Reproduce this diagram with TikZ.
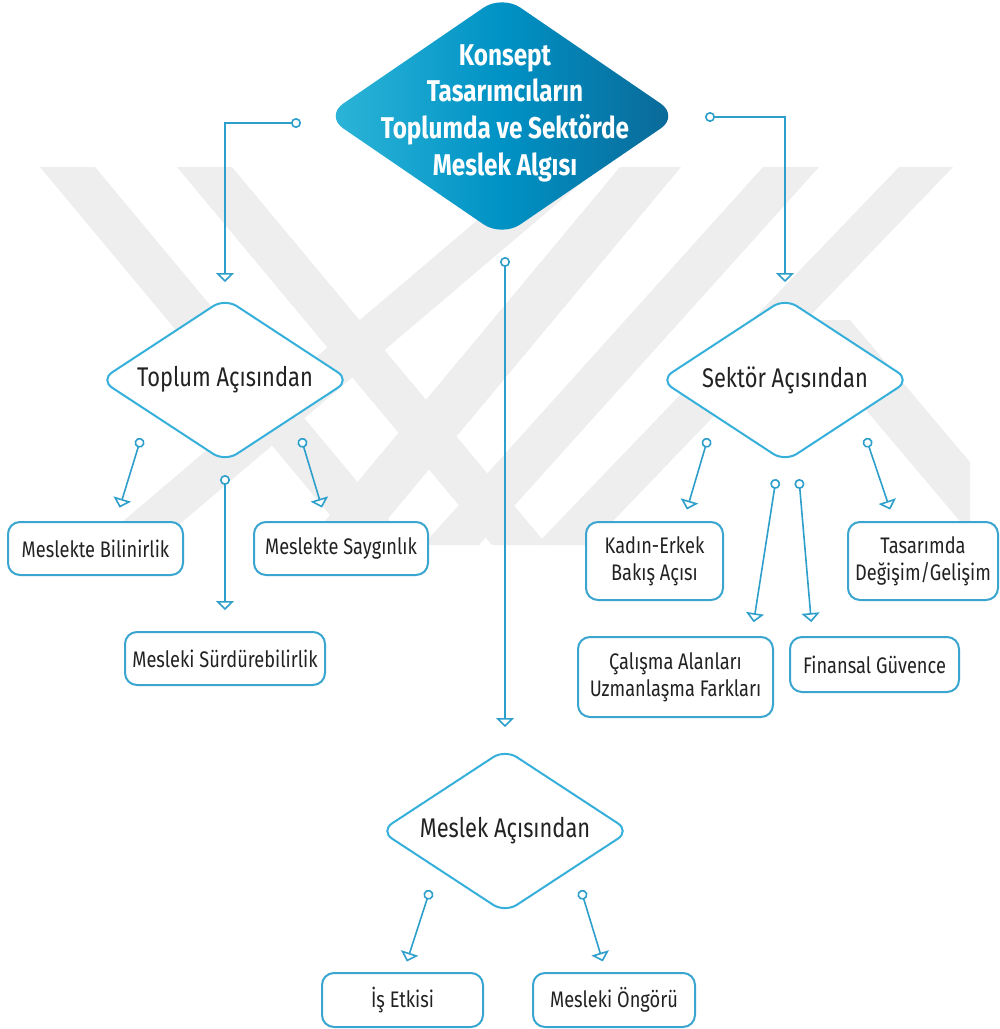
\documentclass[tikz,border=0pt]{standalone}
\usepackage{fontspec}
\setmainfont{Fira Sans}[FakeStretch=0.81]
\usetikzlibrary{shapes.geometric,arrows.meta,calc}
\definecolor{wm}{HTML}{EEEEEE}
\definecolor{linec}{HTML}{2E9FCB}
\definecolor{dline}{HTML}{36B0DB}
\definecolor{boxc}{HTML}{3AA6D0}
\definecolor{gl}{HTML}{2EB6D8}
\definecolor{gm}{HTML}{0092C5}
\definecolor{gr}{HTML}{0B6896}
\definecolor{txt}{HTML}{222222}
\tikzset{
  decision/.style={diamond, aspect=1.54, draw=dline, line width=2pt, fill=white, rounded corners=14pt,
    minimum width=250pt, minimum height=164pt, inner sep=0pt, text=txt,
    font=\fontsize{27}{31}\selectfont},
  itembox/.style={rectangle, draw=boxc, line width=2pt, fill=white, rounded corners=12pt,
    inner sep=0pt, align=center, text=txt, font=\fontsize{22.5}{27}\selectfont},
  conn/.style={draw=linec, line width=1.6pt,
    {Circle[open,length=10pt,width=10pt,fill=white]}-{Triangle[open,length=9pt,width=18pt,fill=white]}},
  band/.style={fill=wm, draw=none}
}
\begin{document}
\begin{tikzpicture}[x=1pt,y=-1pt]
\useasboundingbox (0,0) rectangle (1000,1029);
\fill[white] (0,0) rectangle (1000,1029);
% watermark (approximate)
\begin{scope}
\clip (30,165) rectangle (970,545);
\fill[band] (40,167) -- (95,167) -- (410,545) -- (355,545) -- cycle;
\fill[band] (177,167) -- (232,167) -- (547,545) -- (492,545) -- cycle;
\fill[band] (540,167) -- (600,167) -- (155,545) -- (95,545) -- cycle;
\fill[band] (620,167) -- (681,167) -- (366,545) -- (305,545) -- cycle;
\fill[band] (763,167) -- (819,167) -- (479,545) -- (423,545) -- cycle;
\fill[band] (899,167) -- (953,167) -- (590,545) -- (536,545) -- cycle;
\fill[band] (790,320) -- (850,320) -- (1040,545) -- (980,545) -- cycle;
\end{scope}

% title diamond
\node[diamond, minimum width=354pt, minimum height=242pt, inner sep=0pt, rounded corners=22pt,
  left color=gl, right color=gr, middle color=gm] (title) at (502,116) {};
\node[text=white, font=\bfseries\fontsize{30}{36.7}\selectfont, align=center] (titletext) at (505,113)
  {Konsept\\Tasarımcıların\\Toplumda ve Sektörde\\Meslek Algısı};

% decision diamonds
\node[decision] (toplum) at (225,380) {Toplum Açısından};
\node[decision] (sektor) at (785,380) {Sektör Açısından};
\node[decision] (meslek) at (505,831) {Meslek Açısından};

% boxes
\node[itembox, minimum width=175pt, minimum height=53pt] (b1) at (95.5,548.5) {Meslekte Bilinirlik};
\node[itembox, minimum width=174pt, minimum height=53pt] (b2) at (341,548.5) {Meslekte Saygınlık};
\node[itembox, minimum width=200pt, minimum height=53pt] (b3) at (225,658.5) {Mesleki Sürdürebilirlik};
\node[itembox, minimum width=137pt, minimum height=78pt] (b4) at (654.5,561) {Kadın-Erkek\\Bakış Açısı};
\node[itembox, minimum width=150pt, minimum height=78pt] (b5) at (923,561) {Tasarımda\\Değişim/Gelişim};
\node[itembox, minimum width=195pt, minimum height=80pt] (b6) at (675.5,677) {Çalışma Alanları\\Uzmanlaşma Farkları};
\node[itembox, minimum width=169pt, minimum height=55pt] (b7) at (874.5,664.5) {Finansal Güvence};
\node[itembox, minimum width=161pt, minimum height=54pt] (b8) at (402.5,1000) {İş Etkisi};
\node[itembox, minimum width=162pt, minimum height=54pt] (b9) at (614,1000) {Mesleki Öngörü};

% connector start points
\coordinate (cL) at (301,123);
\coordinate (cR) at (705,117);
\coordinate (cC) at (505,257);
\coordinate (t1) at (141,438);
\coordinate (t2) at (225,475);
\coordinate (t3) at (301,438);
\coordinate (s1) at (708,438);
\coordinate (s2) at (866,438);
\coordinate (s3) at (776,479);
\coordinate (s4) at (799,479);
\coordinate (m1) at (430,890);
\coordinate (m2) at (581,890);

% connectors
\draw[conn, shorten >=15pt] (cL) -| (toplum.north);
\draw[conn, shorten >=15pt] (cR) -| (sektor.north);
\draw[conn, shorten >=21pt] (cC) -- (meslek.north);

\draw[conn, shorten >=14pt] (t1) -- ([xshift=20pt]b1.north);
\draw[conn, shorten >=21pt] (t2) -- (b3.north);
\draw[conn, shorten >=14pt] (t3) -- ([xshift=-15pt]b2.north);

\draw[conn, shorten >=12pt] (s1) -- ([xshift=29pt]b4.north);
\draw[conn, shorten >=12pt] (s2) -- ([xshift=-29pt]b5.north);
\draw[conn, shorten >=14pt] (s3) -- ([xshift=76pt]b6.north);
\draw[conn, shorten >=14pt] (s4) -- ([xshift=-62pt]b7.north);

\draw[conn, shorten >=11pt] (m1) -- ([xshift=1pt]b8.north);
\draw[conn, shorten >=11pt] (m2) -- ([xshift=-8pt]b9.north);
\end{tikzpicture}
\end{document}
